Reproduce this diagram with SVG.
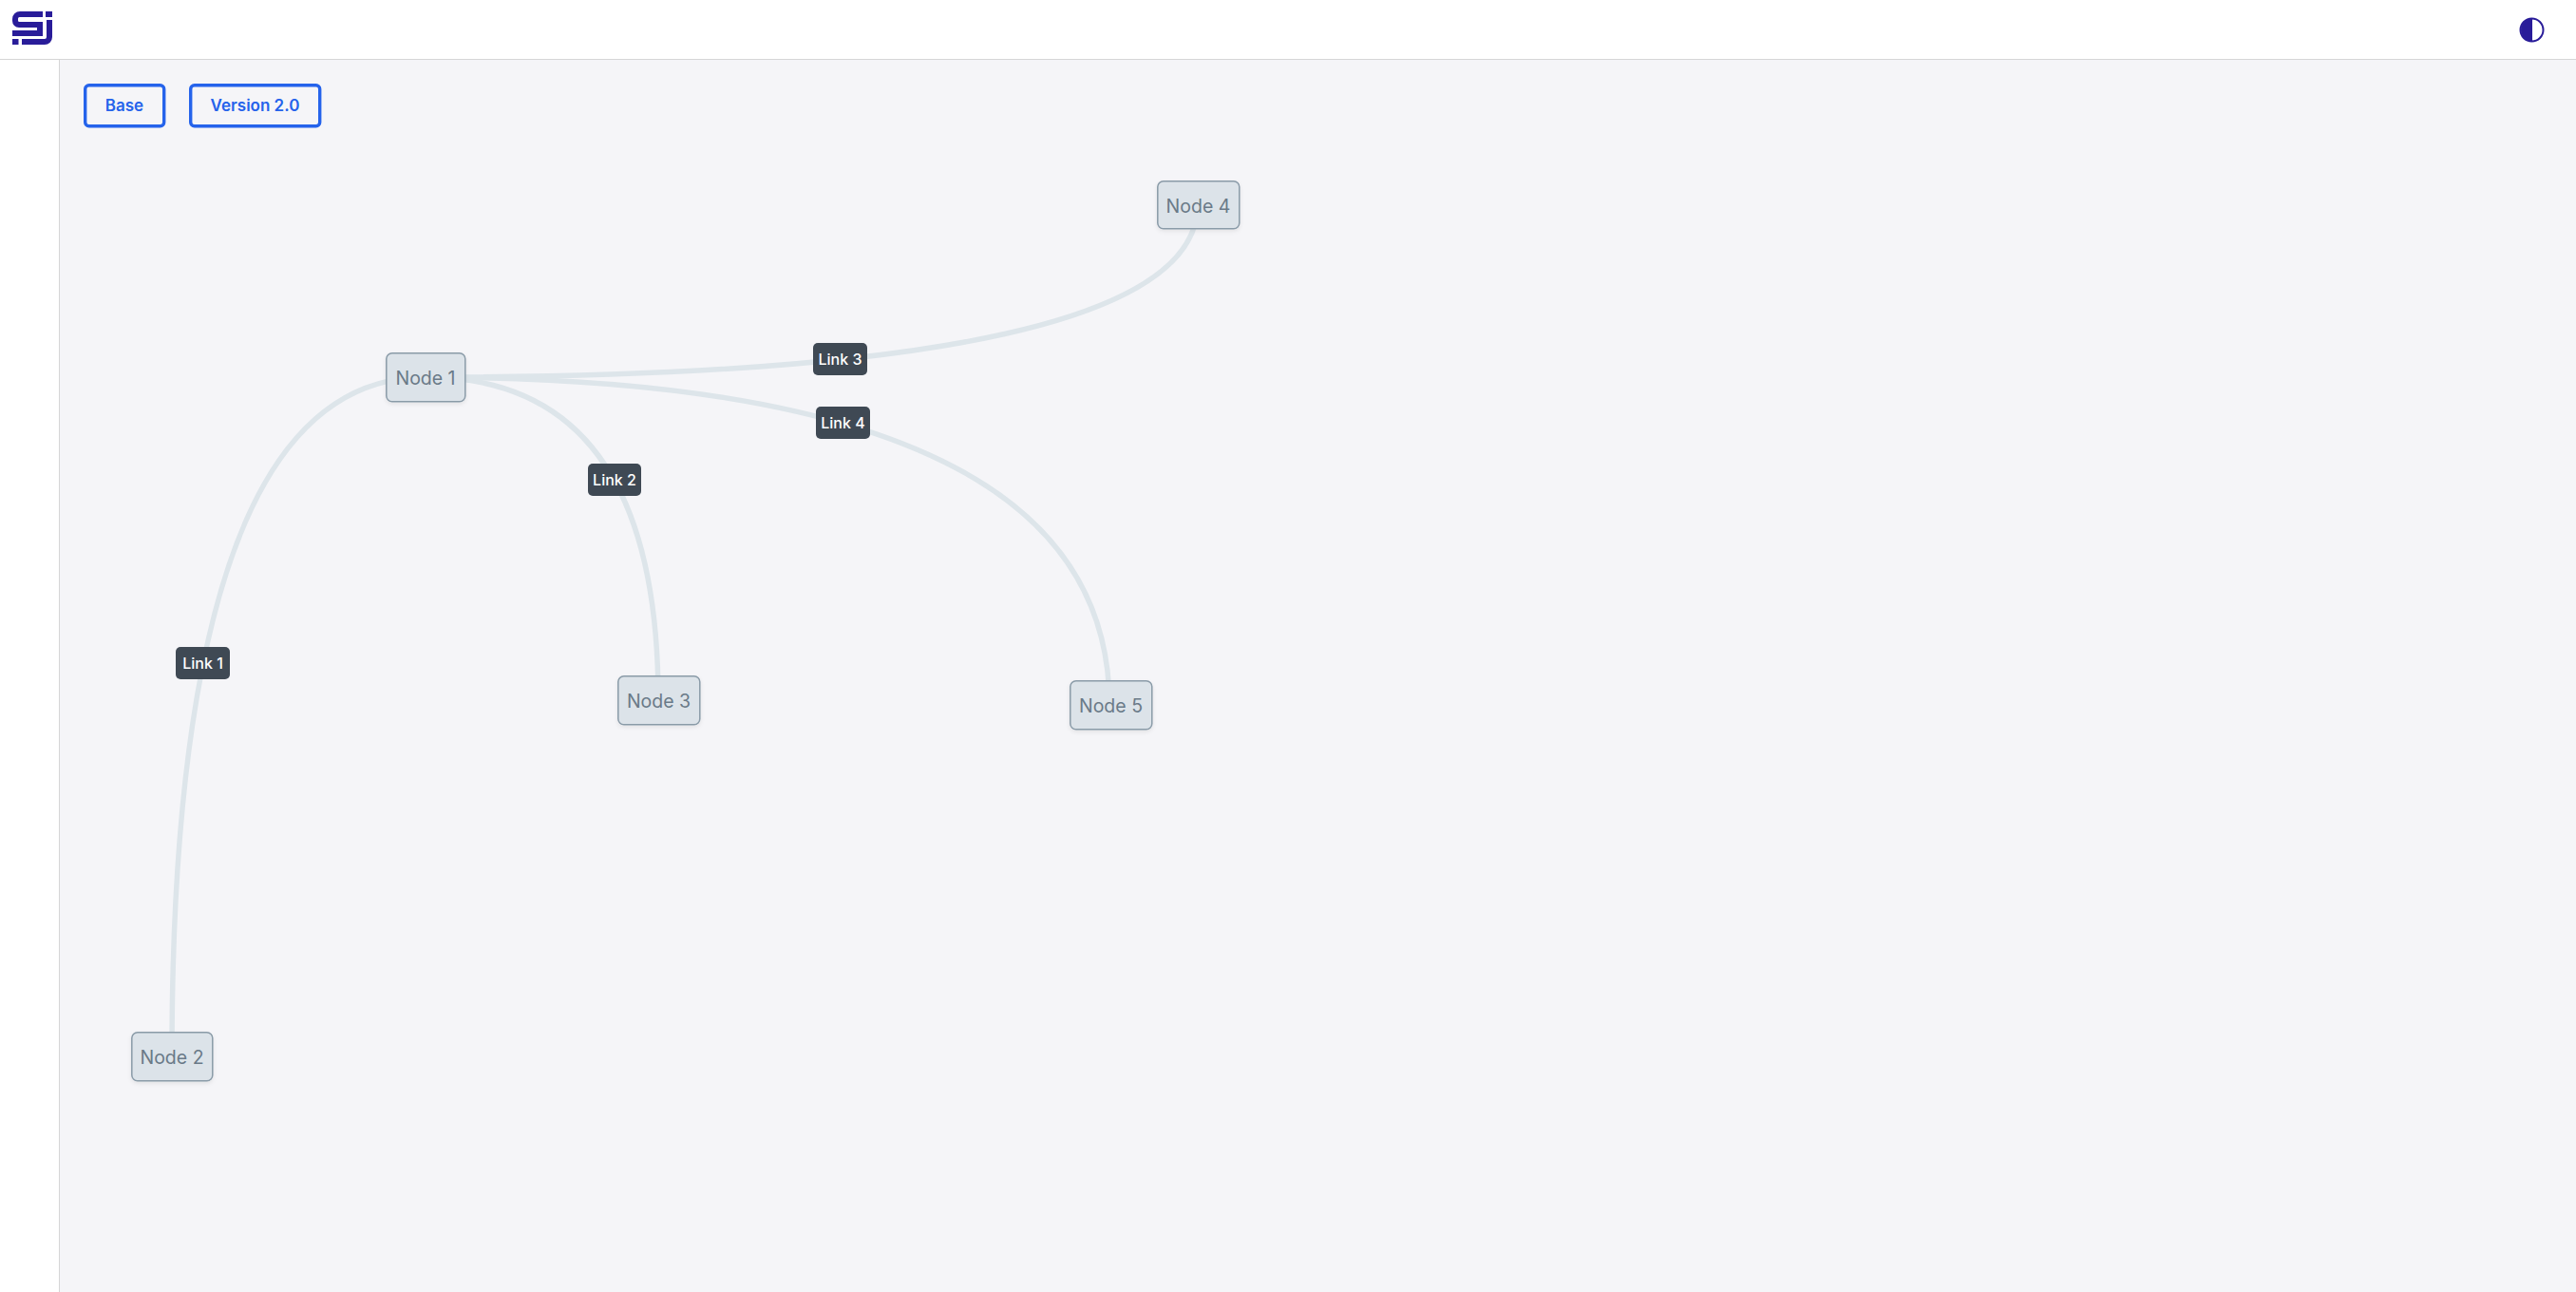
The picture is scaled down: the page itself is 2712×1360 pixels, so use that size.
<svg xmlns="http://www.w3.org/2000/svg" width="2712" height="1360" viewBox="0 0 2712 1360">
<defs>
<style>
.node rect{fill:#dce3e9;stroke:#8a9ba8;stroke-width:1.5}
.node text{font:400 19.500px Inter,"Liberation Sans",sans-serif;fill:#6a7a88;text-anchor:middle}
.edge{fill:none;stroke:#dde5ea;stroke-width:5.500}
.lab rect{fill:#3f4954}
.lab text{font:500 16px Inter,"Liberation Sans",sans-serif;fill:#fff;text-anchor:middle}
.btn rect{fill:none;stroke:#2563eb;stroke-width:3.400}
.btn text{font:600 17px Inter,"Liberation Sans",sans-serif;fill:#2563eb;text-anchor:middle}
</style>
<filter id="sh" x="-20%" y="-20%" width="140%" height="150%"><feDropShadow dx="0" dy="2" stdDeviation="2" flood-color="#000" flood-opacity="0.08"/></filter>
</defs>
<rect width="2712" height="1360" fill="#f5f5f8"/>
<rect width="2712" height="62" fill="#fff"/>
<rect y="62" width="62" height="1298" fill="#fff"/>
<rect y="62" width="2712" height="1" fill="#d6d6d6"/>
<rect x="62" y="62" width="1" height="1298" fill="#d6d6d6"/>
<g id="logo" fill="#291c99">
<path d="M45 12H21A8 8 0 0 0 13 20V22A7 7 0 0 0 20 29H39V32H13V38H45V23H20.500A1.500 1.500 0 0 1 19 21.500V19.500A1.500 1.500 0 0 1 20.500 18H45Z"/>
<path d="M48 12h7v6h-7zM13 41h6.500v6H13z"/>
<path d="M49 21h6v18a8 8 0 0 1-8 8H23v-6h24a2 2 0 0 0 2-2z"/>
</g>
<g id="theme-icon">
<circle cx="2665.500" cy="31.500" r="12" fill="#fff" stroke="#291c99" stroke-width="2"/>
<path d="M2666 19.500a12 12 0 0 0 0 24z" fill="#291c99"/>
</g>
<g id="btn-base" class="btn"><rect x="89.700" y="89.700" width="83" height="43" rx="4"/><text x="131" y="117">Base</text></g>
<g id="btn-version" class="btn"><rect x="200.700" y="89.700" width="136" height="43" rx="4"/><text x="268.500" y="117">Version 2.0</text></g>
<g id="connectors">
<path class="edge" d="M448 397Q181 397 181 1112"/>
<path class="edge" d="M448 397Q693 397 693 737"/>
<path class="edge" d="M448 397Q1261 397 1261 215"/>
<path class="edge" d="M448 397Q1168 397 1168 742"/>
</g>
<g id="node1" class="node"><rect x="406.800" y="371.800" width="83" height="51" rx="6" filter="url(#sh)"/><text x="448" y="404.500">Node 1</text></g>
<g id="node2" class="node"><rect x="138.800" y="1086.800" width="85" height="51" rx="6" filter="url(#sh)"/><text x="181" y="1119.500">Node 2</text></g>
<g id="node3" class="node"><rect x="650.800" y="711.800" width="86" height="51" rx="6" filter="url(#sh)"/><text x="693.500" y="744.500">Node 3</text></g>
<g id="node4" class="node"><rect x="1218.800" y="190.800" width="86" height="50" rx="6" filter="url(#sh)"/><text x="1261.500" y="223.500">Node 4</text></g>
<g id="node5" class="node"><rect x="1126.800" y="716.800" width="86" height="51" rx="6" filter="url(#sh)"/><text x="1169.500" y="749.500">Node 5</text></g>
<g id="link1" class="lab"><rect x="185" y="681" width="57" height="34" rx="5"/><text x="213.500" y="703.500">Link 1</text></g>
<g id="link2" class="lab"><rect x="619" y="488" width="56" height="34" rx="5"/><text x="647" y="510.500">Link 2</text></g>
<g id="link3" class="lab"><rect x="856" y="361" width="57" height="34" rx="5"/><text x="884.500" y="383.500">Link 3</text></g>
<g id="link4" class="lab"><rect x="859" y="428" width="57" height="34" rx="5"/><text x="887.500" y="450.500">Link 4</text></g>
</svg>
